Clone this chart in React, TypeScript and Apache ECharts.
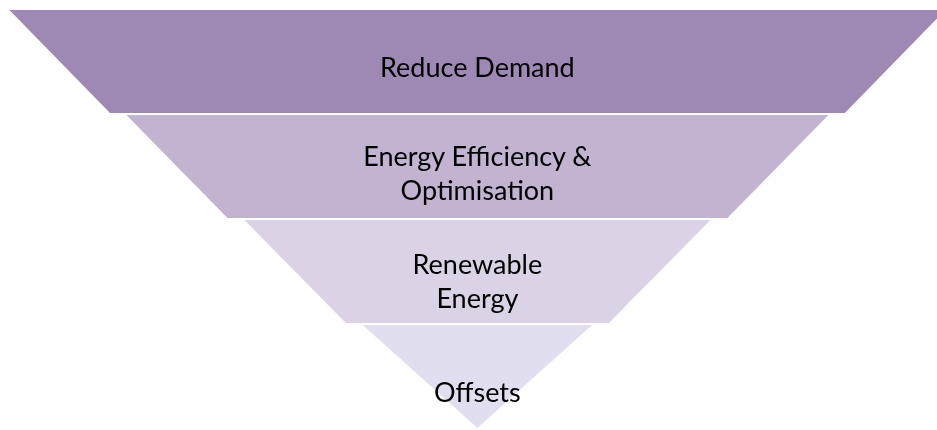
import React, { useEffect, useRef } from "react";
import * as echarts from "echarts";

const layers = ["Reduce Demand", "Energy Efficiency &\nOptimisation", "Renewable\nEnergy", "Offsets"];
const topWidth = [100, 75.0, 49.8, 24.5];
const bottomWidth = [78.5, 53.4, 28.1, 0];
const colors = ["#9E89B5", "#C2B3D1", "#DBD3E5", "#E1DEF0"];
const labelPos = [0.55, 0.56, 0.59, 0.65];

export default function App() {
  const ref = useRef<HTMLDivElement>(null);
  useEffect(() => {
    document.body.style.margin = "0";
    const chart = echarts.init(ref.current!, null, { renderer: "svg" });
    const gap = 2;
    chart.setOption({
      animation: false,
      grid: { left: 0, right: 0, top: 10, bottom: -2 },
      xAxis: { type: "value", min: -51, max: 49.1, show: false },
      yAxis: { type: "category", data: layers, inverse: true, show: false },
      series: [
        {
          type: "custom",
          encode: { x: [1, 2], y: 0 },
          data: layers.map((_, i) => [i, topWidth[i], bottomWidth[i]]),
          renderItem: (params: any, api: any) => {
            const idx = api.value(0);
            const tw = api.value(1);
            const bw = api.value(2);
            const c = api.coord([0, idx]);
            const band = api.size([0, 1])[1];
            const yTop = c[1] - band / 2;
            const yBot = c[1] + band / 2 - gap;
            const tl = api.coord([-tw / 2, idx])[0];
            const tr = api.coord([tw / 2, idx])[0];
            const bl = api.coord([-bw / 2, idx])[0];
            const br = api.coord([bw / 2, idx])[0];
            const h = yBot - yTop;
            return {
              type: "group",
              children: [
                {
                  type: "polygon",
                  shape: { points: [[tl, yTop], [tr, yTop], [br, yBot], [bl, yBot]] },
                  style: { fill: colors[params.dataIndex] },
                },
                {
                  type: "text",
                  style: {
                    text: layers[params.dataIndex],
                    x: c[0],
                    y: yTop + h * labelPos[params.dataIndex],
                    align: "center",
                    verticalAlign: "middle",
                    fill: "#000",
                    font: "27px Lato",
                    lineHeight: 34,
                  },
                },
              ],
            };
          },
        },
      ],
    });
    return () => chart.dispose();
  }, []);
  return <div ref={ref} style={{ position: "fixed", left: 0, top: 0, width: 937, height: 430 }} />;
}
